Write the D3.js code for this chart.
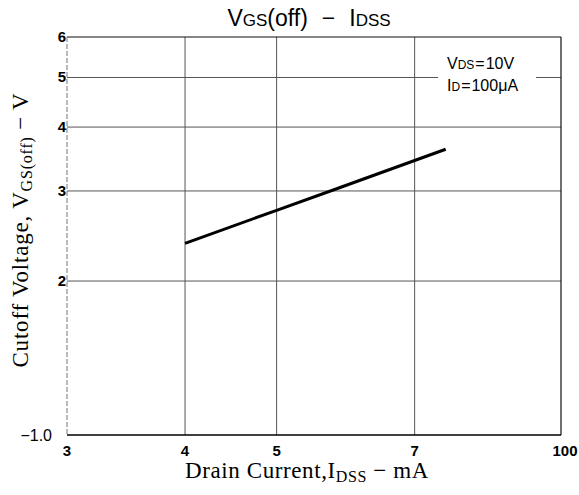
<!DOCTYPE html>
<html><head><meta charset="utf-8">
<script src="https://cdn.jsdelivr.net/npm/d3@7"></script>
<style>body{margin:0;background:#fff}</style>
</head><body><svg id="c" width="579" height="495"></svg>
<script>
const xDomain = [3, 10];
const yDomain = [1, 6];
const xTicks = [3, 4, 5, 7, 10];
const xTickLabels = ["3", "4", "5", "7", "100"];
const yTicks = [2, 3, 4, 5, 6];
const yTickLabels = ["2", "3", "4", "5", "6"];
const yBottomLabel = "\u22121.0";
const idss = [4, 5, 5.73, 7.55];
const vgsoff = [2.37, 2.75, 3.01, 3.62];

const svg = d3.select("#c");
const L = 67, R = 561, T = 37, B = 435;
const x = d3.scaleLog().domain(xDomain).range([L, R]);
const y = d3.scaleLog().domain(yDomain).range([B, T]);

// grid
const g = svg.append("g");
g.selectAll("line.h").data(yTicks.slice(0, -1)).join("line")
  .attr("x1", L).attr("x2", R).attr("y1", d => y(d)).attr("y2", d => y(d))
  .attr("stroke", "#555").attr("stroke-width", 1);
g.selectAll("line.v").data(xTicks.slice(1, -1)).join("line")
  .attr("y1", T).attr("y2", B).attr("x1", d => x(d)).attr("x2", d => x(d))
  .attr("stroke", "#555").attr("stroke-width", 1);
// frame
g.append("line").attr("x1", L).attr("x2", R).attr("y1", T).attr("y2", T).attr("stroke", "#111").attr("stroke-width", 1.2);
g.append("line").attr("x1", R).attr("x2", R).attr("y1", T).attr("y2", B).attr("stroke", "#111").attr("stroke-width", 1.2);
g.append("line").attr("x1", L).attr("x2", L).attr("y1", T).attr("y2", B).attr("stroke", "#777").attr("stroke-width", 1).attr("stroke-dasharray", "5,2");
g.append("line").attr("x1", L).attr("x2", R).attr("y1", B).attr("y2", B).attr("stroke", "#000").attr("stroke-width", 1.6);

// legend box (white to interrupt gridline)
const lg = svg.append("g").attr("font-family", "Liberation Sans, Arial, sans-serif").attr("fill", "#000");
lg.append("rect").attr("x", 438).attr("y", 48).attr("width", 98).attr("height", 46).attr("fill", "#fff");
const t1 = lg.append("text").attr("x", 447).attr("y", 69).attr("font-size", 16);
t1.append("tspan").text("V");
t1.append("tspan").attr("font-size", 12).text("DS");
t1.append("tspan").attr("dx", 1).text("=");
t1.append("tspan").attr("dx", 1).text("10V");
const t2 = lg.append("text").attr("x", 447).attr("y", 91).attr("font-size", 16);
t2.append("tspan").text("I");
t2.append("tspan").attr("font-size", 12).text("D");
t2.append("tspan").attr("dx", 1).text("=");
t2.append("tspan").attr("dx", 1).text("100\u03bcA");

// data line
const line = d3.line().x((d, i) => x(idss[i])).y(d => y(d));
svg.append("path").datum(vgsoff).attr("d", line).attr("fill", "none")
  .attr("stroke", "#000").attr("stroke-width", 3);

// tick labels
const tl = svg.append("g").attr("font-family", "Liberation Sans, Arial, sans-serif").attr("font-weight", "bold").attr("font-size", 15).attr("fill", "#000");
tl.selectAll("text.y").data(yTicks).join("text")
  .attr("x", L - 1).attr("y", d => y(d) + 5).attr("text-anchor", "end")
  .text((d, i) => yTickLabels[i]);
tl.append("text").attr("x", L - 15).attr("y", B + 6).attr("text-anchor", "end").attr("font-weight", "normal").attr("font-size", 16).text(yBottomLabel);
tl.selectAll("text.x").data(xTicks).join("text")
  .attr("x", (d, i) => x(d) + (i === xTicks.length - 1 ? 4 : 0)).attr("y", B + 21).attr("text-anchor", "middle")
  .text((d, i) => xTickLabels[i]);

// title
const tt = svg.append("text").attr("x", 309).attr("y", 26).attr("text-anchor", "middle")
  .attr("font-family", "Liberation Sans, Arial, sans-serif").attr("font-size", 23).attr("fill", "#000");
tt.append("tspan").text("V");
tt.append("tspan").attr("font-size", 17).text("GS");
tt.append("tspan").text("(off)");
tt.append("tspan").attr("dx", 14).text("\u2212");
tt.append("tspan").attr("dx", 14).text("I");
tt.append("tspan").attr("font-size", 17).text("DSS");

// axis titles
const xt = svg.append("text").attr("x", 307).attr("y", 478).attr("text-anchor", "middle")
  .attr("font-family", "Liberation Serif, Times New Roman, serif").attr("font-size", 23).attr("letter-spacing", 0.6).attr("fill", "#000");
xt.append("tspan").text("Drain Current,I");
xt.append("tspan").attr("font-size", 16).attr("dy", 4).text("DSS");
xt.append("tspan").attr("dy", -4).text(" \u2212 mA");

const yt = svg.append("text").attr("transform", "translate(28,230) rotate(-90)").attr("text-anchor", "middle")
  .attr("font-family", "Liberation Serif, Times New Roman, serif").attr("font-size", 23).attr("letter-spacing", 0.8).attr("fill", "#000");
yt.append("tspan").text("Cutoff Voltage, V");
yt.append("tspan").attr("font-size", 16).attr("dy", 4).text("GS(off)");
yt.append("tspan").attr("dy", -4).text(" \u2212 V");
</script></body></html>
